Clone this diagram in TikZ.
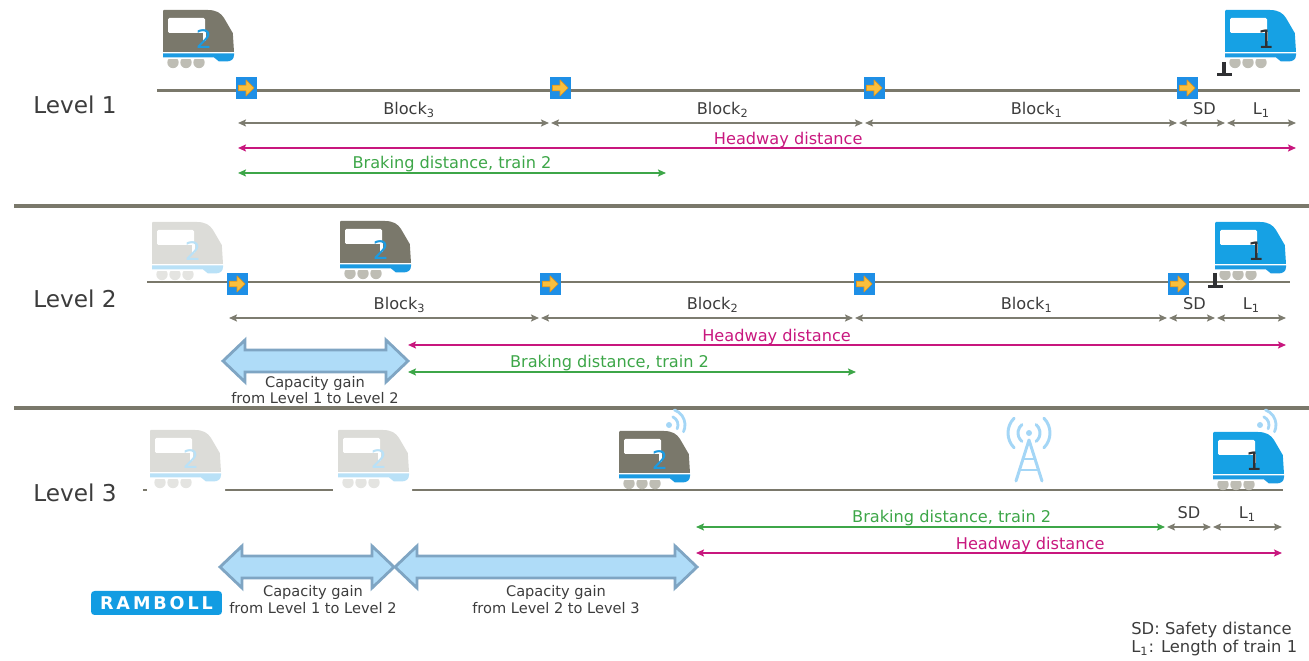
\documentclass[tikz,border=0pt]{standalone}
\usepackage{fontspec}
\setmainfont{DejaVu Sans}
\usetikzlibrary{arrows.meta}

\definecolor{railgray}{HTML}{7A786B}
\definecolor{dimgray}{HTML}{7D7C70}
\definecolor{txtgray}{HTML}{3C3C3C}
\definecolor{headwaymag}{HTML}{C8177E}
\definecolor{brakegreen}{HTML}{3DA648}
\definecolor{locogray}{HTML}{7A786B}
\definecolor{wheelgray}{HTML}{BEBDB4}
\definecolor{locoblue}{HTML}{16A1E4}
\definecolor{stripeblue}{HTML}{1C9BE2}
\definecolor{ghostbody}{HTML}{DCDCD8}
\definecolor{ghostblue}{HTML}{B9E1F7}
\definecolor{ghostwheel}{HTML}{E4E4E1}
\definecolor{radioblue}{HTML}{A4D6F6}
\definecolor{gainfill}{HTML}{AFDCF8}
\definecolor{gainedge}{HTML}{7FA5C3}
\definecolor{signalblue}{HTML}{1E8FE6}
\definecolor{signalyellow}{HTML}{F9BF3D}
\definecolor{signalorange}{HTML}{E2961C}
\definecolor{stopblack}{HTML}{2F3033}
\definecolor{logoblue}{HTML}{129CE2}

\tikzset{
  pics/train/.style n args={5}{code={
    % wheels, flat on top
    \begin{scope}
      \clip (-1,49.5) rectangle (73,60);
      \foreach \w in {10,23,36} \fill[#5] (\w,52.5) circle[radius=5.7];
    \end{scope}
    % body with sloped nose
    \fill[#1] (0,42) -- (0,1) -- (1,0) -- (45,0) .. controls (53,0) and (58,3) .. (61,8)
      -- (68,20) .. controls (70,23) .. (70,26) -- (71,42) -- cycle;
    \fill[white,rounded corners=0.8pt] (5,8) rectangle (42,23);
    \fill[white] (40,22) rectangle (43,31);
    % stripe and skirt
    \fill[#2] (0,43.5) -- (71,43.5) -- (71,45) .. controls (71,49.5) and (68,51.5) .. (63,51.5)
      -- (56,51.5) -- (51,47.5) -- (0,47.5) -- cycle;
    \node[font=\fontsize{14.5}{14.5}\selectfont,text=#3,inner sep=0pt] (num) at (41,29) {#4};
  }},
  pics/signal/.style={code={
    \fill[signalblue] (-10.5,-11) rectangle (10.5,11);
    \filldraw[draw=signalorange,fill=signalyellow,line width=0.4pt,line join=round]
      (-7.5,-2.8) -- (0,-2.8) -- (0,-8) -- (8,0) -- (0,8) -- (0,2.8) -- (-7.5,2.8) -- cycle;
  }},
  pics/waves/.style={code={
    \fill[radioblue] (0,0) circle[radius=3];
    \draw[radioblue,line width=1.6pt,line cap=round] (25:9) arc[start angle=25,end angle=-65,radius=9];
    \draw[radioblue,line width=1.6pt,line cap=round] (25:16) arc[start angle=25,end angle=-70,radius=16];
  }},
}

% double headed arrow: from x #1 to x #2 at height #3
\newcommand\gainarrow[3]{%
  \draw[gain] (#1,#3) -- (#1+22,#3-21) -- (#1+22,#3-11) -- (#2-22,#3-11) -- (#2-22,#3-21)
    -- (#2,#3) -- (#2-22,#3+21) -- (#2-22,#3+11) -- (#1+22,#3+11) -- (#1+22,#3+21) -- cycle;}

\begin{document}
\begin{tikzpicture}[x=0.02cm,y=-0.02cm,
  rail/.style={draw=railgray,line width=1.7pt},
  divider/.style={draw=railgray,line width=2.4pt},
  dim/.style={draw=dimgray,line width=0.75pt,>={Stealth[length=4.5pt,width=4pt,inset=0.8pt]},<->,
    shorten <=0.6pt,shorten >=0.6pt},
  headway/.style={dim,draw=headwaymag},
  braking/.style={dim,draw=brakegreen},
  lbl/.style={font=\fontsize{9.2}{11}\selectfont,text=txtgray,anchor=base,inner sep=0pt},
  blocklbl/.style={lbl,yshift=4.6pt},
  hwlbl/.style={lbl,text=headwaymag,yshift=1.8pt},
  brlbl/.style={lbl,text=brakegreen,yshift=2.6pt},
  levellbl/.style={font=\fontsize{13.2}{15}\selectfont,text=txtgray,anchor=base},
  gain/.style={draw=gainedge,fill=gainfill,line width=1.6pt},
  gainlbl/.style={font=\fontsize{8.3}{10}\selectfont,text=txtgray,anchor=base,inner sep=0pt},
  stop/.style={draw=stopblack,line width=2.2pt},
  mast/.style={draw=radioblue,line width=1.7pt,line cap=round,line join=round},
]
\useasboundingbox (0,0) rectangle (1309,661);

% ---- Level 1 ----
\node[levellbl] (lev1) at (75,114) {Level 1};
\draw[rail] (157,91) -- (1300,91);
\foreach \x [count=\i] in {246,560,874,1187}
  \pic (sigA\i) at (\x,88) {signal};
\pic (trainA2) at (163,10) {train={locogray}{stripeblue}{stripeblue}{2}{wheelgray}};
\pic (trainA1) at (1225,10) {train={locoblue}{stripeblue}{stopblack}{1}{wheelgray}};
\draw[stop] (1224,62) -- (1224,74) (1217,74.5) -- (1232,74.5);

\foreach \x [count=\i from 0] in {237,550,864,1178,1226,1297}
  \coordinate (a\i) at (\x,123);
\coordinate (ah0) at (237,148);
\coordinate (ah1) at (1297,148);
\coordinate (ab0) at (237,173);
\coordinate (ab1) at (667,173);
\draw[dim] (a0) -- node[blocklbl,pos=.55] (aB3) {Block\textsubscript{3}} (a1);
\draw[dim] (a1) -- node[blocklbl,pos=.55] (aB2) {Block\textsubscript{2}} (a2);
\draw[dim] (a2) -- node[blocklbl,pos=.55] (aB1) {Block\textsubscript{1}} (a3);
\draw[dim] (a3) -- node[blocklbl,pos=.55] (aSD) {SD} (a4);
\draw[dim] (a4) -- node[blocklbl] (aL1) {L\textsubscript{1}} (a5);
\draw[headway] (ah0) -- node[hwlbl,pos=.52] (aHW) {Headway distance} (ah1);
\draw[braking] (ab0) -- node[brlbl] (aBR) {Braking distance, train 2} (ab1);

\draw[divider] (14,206) -- (1309,206);

% ---- Level 2 ----
\node[levellbl] (lev2) at (75,308) {Level 2};
\draw[rail] (147,282) -- (1290,282);
\pic (ghostB) at (152,222) {train={ghostbody}{ghostblue}{ghostblue}{2}{ghostwheel}};
\pic (trainB2) at (340,221) {train={locogray}{stripeblue}{stripeblue}{2}{wheelgray}};
\pic (trainB1) at (1215,222) {train={locoblue}{stripeblue}{stopblack}{1}{wheelgray}};
\foreach \x [count=\i] in {237,550,864,1178}
  \pic (sigB\i) at (\x,284) {signal};
\draw[stop] (1215,273) -- (1215,286) (1208,286.5) -- (1223,286.5);

\foreach \x [count=\i from 0] in {228,540,854,1168,1216,1287}
  \coordinate (b\i) at (\x,318);
\coordinate (bh0) at (407,345);
\coordinate (bh1) at (1287,345);
\coordinate (bb0) at (407,372);
\coordinate (bb1) at (857,372);
\draw[dim] (b0) -- node[blocklbl,pos=.55] (bB3) {Block\textsubscript{3}} (b1);
\draw[dim] (b1) -- node[blocklbl,pos=.55] (bB2) {Block\textsubscript{2}} (b2);
\draw[dim] (b2) -- node[blocklbl,pos=.55] (bB1) {Block\textsubscript{1}} (b3);
\draw[dim] (b3) -- node[blocklbl,pos=.55] (bSD) {SD} (b4);
\draw[dim] (b4) -- node[blocklbl] (bL1) {L\textsubscript{1}} (b5);
\draw[headway] (bh0) -- node[hwlbl,pos=.42] (bHW) {Headway distance} (bh1);
\draw[braking] (bb0) -- node[brlbl,pos=.45] (bBR) {Braking distance, train 2} (bb1);

\gainarrow{223}{408}{361}
\node[gainlbl] (bG1) at (315,388) {Capacity gain};
\node[gainlbl] (bG2) at (315,404) {from Level 1 to Level 2};

\draw[divider] (14,408) -- (1309,408);

% ---- Level 3 ----
\node[levellbl] (lev3) at (75,502) {Level 3};
\draw[rail] (143,490) -- (1283,490);
\fill[white] (147,485) rectangle (225,495) (333,485) rectangle (412,495);
\pic (ghostC1) at (150,430) {train={ghostbody}{ghostblue}{ghostblue}{2}{ghostwheel}};
\pic (ghostC2) at (338,430) {train={ghostbody}{ghostblue}{ghostblue}{2}{ghostwheel}};
\pic (trainC2) at (619,431) {train={locogray}{stripeblue}{stripeblue}{2}{wheelgray}};
\pic (radioC2) at (669,425) {waves};
\pic (trainC1) at (1213,432) {train={locoblue}{stripeblue}{stopblack}{1}{wheelgray}};
\pic (radioC1) at (1260,425) {waves};

% radio mast
\draw[mast] (1016,481) -- (1029,440) -- (1042,481);
\draw[mast,line cap=butt] (1023,459) -- (1035,459) (1019.5,470) -- (1038.5,470);
\fill[radioblue] (1029,433) circle[radius=3];
\draw[mast] (1029,433) ++(50:11) arc[start angle=50,end angle=-50,radius=11]
  (1029,433) ++(45:21) arc[start angle=45,end angle=-45,radius=21]
  (1029,433) ++(130:11) arc[start angle=130,end angle=230,radius=11]
  (1029,433) ++(135:21) arc[start angle=135,end angle=225,radius=21];

\foreach \x [count=\i from 0] in {695,1166,1212,1283}
  \coordinate (c\i) at (\x,527);
\coordinate (ch0) at (695,553);
\coordinate (ch1) at (1283,553);
\draw[braking] (c0) -- node[brlbl,pos=.545] (cBR) {Braking distance, train 2} (c1);
\draw[dim] (c1) -- node[blocklbl] (cSD) {SD} (c2);
\draw[dim] (c2) -- node[blocklbl] (cL1) {L\textsubscript{1}} (c3);
\draw[headway] (ch0) -- node[hwlbl,pos=.57] (cHW) {Headway distance} (ch1);

\gainarrow{220}{394}{567}
\gainarrow{395}{697}{567}
\node[gainlbl] (cG1) at (313,597) {Capacity gain};
\node[gainlbl] (cG2) at (313,614) {from Level 1 to Level 2};
\node[gainlbl] (cG3) at (556,597) {Capacity gain};
\node[gainlbl] (cG4) at (556,614) {from Level 2 to Level 3};

% logo and legend
\node[fill=logoblue,rounded corners=2pt,minimum width=2.62cm,minimum height=0.48cm,inner sep=0pt,
  text=white,font=\fontsize{10}{10}\selectfont\bfseries] (logo) at (156.5,603) {R\,A\,M\,B\,O\,L\,L};
\node[lbl,anchor=base west,font=\fontsize{9.3}{11}\selectfont] (noteSD) at (1131,635) {SD: Safety distance};
\node[lbl,anchor=base west,font=\fontsize{9.3}{11}\selectfont] (noteL1) at (1131,653) {L\textsubscript{1}: Length of train 1};
\end{tikzpicture}
\end{document}
